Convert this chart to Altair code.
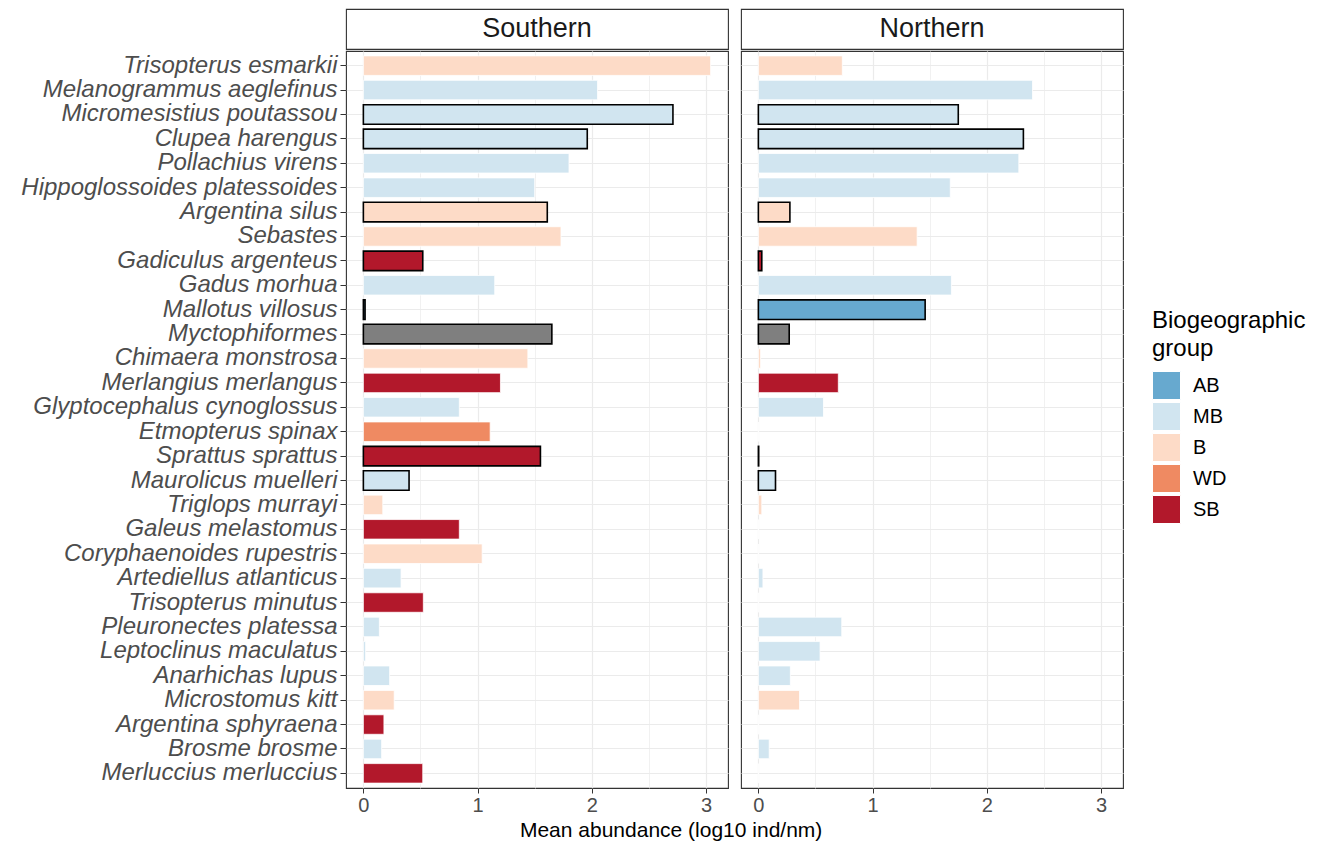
import altair as alt
import pandas as pd

FONT = "Liberation Sans"

regions = ["Southern", "Northern"]

species = [
    "Trisopterus esmarkii", "Melanogrammus aeglefinus", "Micromesistius poutassou",
    "Clupea harengus", "Pollachius virens", "Hippoglossoides platessoides",
    "Argentina silus", "Sebastes", "Gadiculus argenteus", "Gadus morhua",
    "Mallotus villosus", "Myctophiformes", "Chimaera monstrosa", "Merlangius merlangus",
    "Glyptocephalus cynoglossus", "Etmopterus spinax", "Sprattus sprattus",
    "Maurolicus muelleri", "Triglops murrayi", "Galeus melastomus",
    "Coryphaenoides rupestris", "Artediellus atlanticus", "Trisopterus minutus",
    "Pleuronectes platessa", "Leptoclinus maculatus", "Anarhichas lupus",
    "Microstomus kitt", "Argentina sphyraena", "Brosme brosme", "Merluccius merluccius",
]

groups = [
    "B", "MB", "MB", "MB", "MB", "MB", "B", "B", "SB", "MB",
    "AB", "NA", "B", "SB", "MB", "WD", "SB", "MB", "B", "SB",
    "B", "MB", "SB", "MB", "MB", "MB", "B", "SB", "MB", "SB",
]

pelagic = [
    False, False, True, True, False, False, True, False, True, False,
    True, True, False, False, False, False, True, True, False, False,
    False, False, False, False, False, False, False, False, False, False,
]

southern = [
    3.04, 2.05, 2.71, 1.96, 1.80, 1.50, 1.61, 1.73, 0.52, 1.15,
    0.015, 1.65, 1.44, 1.20, 0.84, 1.11, 1.55, 0.40, 0.17, 0.84,
    1.04, 0.33, 0.525, 0.14, 0.02, 0.23, 0.27, 0.18, 0.16, 0.52,
]

northern = [
    0.735, 2.40, 1.75, 2.32, 2.28, 1.68, 0.276, 1.39, 0.03, 1.69,
    1.46, 0.27, 0.02, 0.70, 0.57, 0.0, 0.003, 0.15, 0.03, 0.0,
    0.0, 0.04, 0.0, 0.73, 0.54, 0.28, 0.36, 0.0, 0.095, 0.0,
]

x_ticks = [0, 0.5, 1, 1.5, 2, 2.5, 3]

group_domain = ["AB", "MB", "B", "WD", "SB", "NA"]
group_colors = ["#67a9cf", "#d1e5f0", "#fddbc7", "#ef8a62", "#b2182b", "#7f7f7f"]
legend_values = ["AB", "MB", "B", "WD", "SB"]

rows = []
for reg, vals in zip(regions, [southern, northern]):
    for sp, g, p, v in zip(species, groups, pelagic, vals):
        rows.append({"species": sp, "group": g, "pelagic": p, "value": v, "region": reg})
df = pd.DataFrame(rows)

W = 382
H = 737
XDOM = [-0.152, 3.192]
xscale = alt.Scale(domain=XDOM, nice=False, zero=False)

MINOR = "datum.value % 1 !== 0"


def header(region):
    return (
        alt.Chart(pd.DataFrame({"t": [region]}))
        .mark_text(font=FONT, fontSize=27, color="#1a1a1a", baseline="middle", align="center")
        .encode(text="t:N", x=alt.value(W / 2), y=alt.value(20))
        .properties(width=W, height=40)
    )


def panel(region, left):
    xaxis = alt.Axis(
        title=None,
        values=x_ticks,
        labelExpr="datum.value % 1 === 0 ? format(datum.value, 'd') : ''",
        labelFont=FONT, labelFontSize=20, labelColor="#4d4d4d",
        tickColor={"condition": {"test": MINOR, "value": "transparent"}, "value": "#333333"},
        tickSize=5, labelPadding=2, domain=False, grid=True, gridColor="#ebebeb",
        gridWidth={"condition": {"test": MINOR, "value": 0.7}, "value": 1.2},
    )
    if left:
        yaxis = alt.Axis(
            title=None, labelFont=FONT, labelFontSize=24, labelFontStyle="italic",
            labelColor="#4d4d4d", tickColor="#333333", tickSize=6, labelPadding=3,
            domain=False, grid=True, gridColor="#ebebeb", gridWidth=1.2,
            bandPosition=0.5, labelLimit=0,
        )
    else:
        yaxis = alt.Axis(
            title=None, labels=False, ticks=False, domain=False, grid=True,
            gridColor="#ebebeb", gridWidth=1.2, bandPosition=0.5,
        )
    bars = (
        alt.Chart(df)
        .transform_filter(alt.datum.region == region)
        .mark_bar()
        .encode(
            x=alt.X("value:Q", scale=xscale, axis=xaxis),
            x2=alt.datum(0),
            y=alt.Y("species:N", sort=species,
                    scale=alt.Scale(paddingInner=0.2, paddingOuter=0.2), axis=yaxis),
            fill=alt.Fill(
                "group:N",
                scale=alt.Scale(domain=group_domain, range=group_colors),
                legend=alt.Legend(
                    values=legend_values, title=["Biogeographic", "group"],
                    orient="none", legendX=806, legendY=300,
                    titleFont=FONT, titleFontSize=24, titleFontWeight="normal",
                    titleColor="black", titleLineHeight=28, titlePadding=10,
                    labelFont=FONT, labelFontSize=20, labelColor="black",
                    symbolType="square", symbolSize=784, symbolStrokeColor="white",
                    symbolStrokeWidth=1, symbolOpacity=1, labelOffset=12, rowPadding=-2,
                ),
            ),
            stroke=alt.condition(alt.datum.pelagic, alt.value("black"), alt.value("white")),
            strokeWidth=alt.condition(alt.datum.pelagic, alt.value(1.6), alt.value(0.8)),
        )
        .properties(width=W, height=H)
    )
    return bars


left_col = alt.vconcat(header("Southern"), panel("Southern", True), spacing=0)
right_col = alt.vconcat(header("Northern"), panel("Northern", False), spacing=0)

chart = (
    alt.hconcat(left_col, right_col, spacing=11)
    .resolve_scale(fill="shared")
    .resolve_legend(fill="shared")
    .properties(
        padding={"left": 12, "top": 0, "right": 0, "bottom": 0},
        background="white",
        title=alt.TitleParams(
            "Mean abundance (log10 ind/nm)", orient="bottom", anchor="middle",
            font=FONT, fontSize=21, fontWeight="normal", color="black", offset=4, dx=8,
        ),
    )
    .configure_view(stroke="#333333", strokeWidth=1.1)
)

chart.save("out.html", embed_options={"renderer": "svg", "actions": False})
